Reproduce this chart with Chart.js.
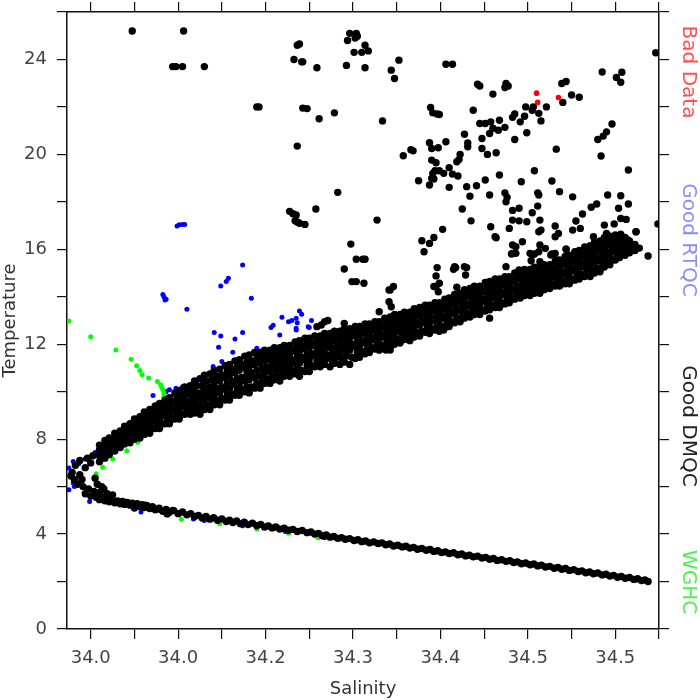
<!DOCTYPE html>
<html>
<head>
<meta charset="utf-8">
<script src="https://cdn.jsdelivr.net/npm/chart.js@4.4.1/dist/chart.umd.min.js"></script>
<style>
  html, body { margin: 0; padding: 0; background: #fff; }
  #wrap { width: 700px; height: 700px; position: relative; }
</style>
</head>
<body>
<div id="wrap"><canvas id="chart0"></canvas></div>
<script>
// axis ticks (labels as printed on the original plot)
const xTickValues = [34.00, 34.04, 34.08, 34.12, 34.16, 34.20, 34.24, 34.28, 34.32, 34.36, 34.40, 34.44, 34.48, 34.52];
const xTickLabels = ['34.0', '', '34.0', '', '34.2', '', '34.3', '', '34.4', '', '34.5', '', '34.5', ''];

const seriesNames = ['Bad Data', 'Good RTQC', 'Good DMQC', 'WGHC'];

// Bad Data (red)
const badData = [[34.408, 22.58], [34.409, 22.19], [34.428, 22.40]];

// Good DMQC - warm branch, temperatures seen at each salinity column
const bandSal = [34.008, 34.013, 34.017, 34.022, 34.027, 34.031, 34.036, 34.040, 34.045, 34.049,
  34.054, 34.059, 34.063, 34.068, 34.072, 34.077, 34.081, 34.086, 34.091, 34.095,
  34.100, 34.104, 34.109, 34.113, 34.118, 34.123, 34.127, 34.132, 34.136, 34.141,
  34.145, 34.150, 34.155, 34.159, 34.164, 34.168, 34.173, 34.177, 34.182, 34.187,
  34.191, 34.196, 34.200, 34.205, 34.210, 34.214, 34.219, 34.223, 34.228, 34.232,
  34.237, 34.242, 34.246, 34.251, 34.255, 34.260, 34.264, 34.269, 34.274, 34.278,
  34.283, 34.287, 34.292, 34.296, 34.301, 34.306, 34.310, 34.315, 34.319, 34.324,
  34.328, 34.333, 34.338, 34.342, 34.347, 34.351, 34.356, 34.361, 34.365, 34.370,
  34.374, 34.379, 34.383, 34.388, 34.393, 34.397, 34.402, 34.406, 34.411, 34.415,
  34.420, 34.425, 34.429, 34.434, 34.438, 34.443, 34.447, 34.452, 34.457, 34.461,
  34.466, 34.470, 34.475, 34.480, 34.484, 34.489, 34.493, 34.498, 34.502];
const bandTemp = [
  [7.05, 7.3, 7.55, 7.75], [7.2, 7.45, 7.7, 7.95], [7.35, 7.6, 7.85, 8.05], [7.5, 7.8, 8.05, 8.25], [7.65, 7.9, 8.15, 8.35],
  [7.8, 8.05, 8.3, 8.55], [7.85, 8.15, 8.45, 8.65], [8.0, 8.3, 8.6, 8.85], [8.05, 8.4, 8.65, 8.95], [8.2, 8.55, 8.85, 9.15],
  [8.25, 8.6, 8.95, 9.25], [8.45, 8.75, 9.1, 9.4], [8.45, 8.8, 9.15, 9.5], [8.65, 9.0, 9.3, 9.65], [8.65, 9.05, 9.4, 9.75],
  [8.85, 9.2, 9.55, 9.95], [8.85, 9.25, 9.7, 10.05], [9.05, 9.4, 9.8, 10.2], [9.05, 9.45, 9.9, 10.25], [9.1, 9.55, 10.0, 10.45],
  [9.05, 9.5, 9.95, 10.55], [9.25, 9.7, 10.15, 10.7], [9.25, 9.75, 10.2, 10.75], [9.45, 9.9, 10.4, 10.9], [9.45, 9.95, 10.45, 10.95],
  [9.65, 10.1, 10.6, 11.1], [9.65, 10.15, 10.7, 11.15], [9.85, 10.3, 10.8, 11.3], [9.85, 10.35, 10.9, 11.35], [10.0, 10.45, 11.0, 11.5],
  [9.95, 10.5, 11.05, 11.55], [10.15, 10.6, 11.15, 11.65], [10.15, 10.65, 11.2, 11.65], [10.35, 10.8, 11.3, 11.75], [10.35, 10.85, 11.35, 11.75],
  [10.5, 10.95, 11.45, 11.85], [10.45, 10.95, 11.45, 11.85], [10.65, 11.1, 11.55, 11.95], [10.65, 11.1, 11.6, 11.95], [10.75, 11.2, 11.7, 12.1],
  [10.65, 11.2, 11.7, 12.15], [10.85, 11.35, 11.8, 12.25], [10.85, 11.35, 11.85, 12.25], [11.05, 11.5, 11.95, 12.35], [11.05, 11.5, 11.95, 12.35],
  [11.15, 11.6, 12.05, 12.45], [11.05, 11.55, 12.05, 12.45], [11.2, 11.7, 12.15, 12.55], [11.15, 11.65, 12.15, 12.55], [11.25, 11.75, 12.25, 12.65],
  [11.15, 11.75, 12.25, 12.65], [11.4, 11.9, 12.35, 12.75], [11.45, 11.95, 12.4, 12.75], [11.6, 12.05, 12.45, 12.85], [11.65, 12.1, 12.5, 12.85],
  [11.8, 12.2, 12.6, 12.95], [11.75, 12.2, 12.6, 12.95], [11.9, 12.3, 12.7, 13.1], [11.85, 12.3, 12.75, 13.15], [12.0, 12.45, 12.85, 13.25],
  [12.05, 12.5, 12.9, 13.25], [12.2, 12.6, 13.0, 13.35], [12.15, 12.6, 13.0, 13.35], [12.3, 12.75, 13.1, 13.5], [12.35, 12.8, 13.2, 13.55],
  [12.5, 12.9, 13.3, 13.65], [12.45, 12.9, 13.3, 13.65], [12.6, 13.0, 13.4, 13.75], [12.55, 13.0, 13.4, 13.75], [12.7, 13.1, 13.5, 13.9],
  [12.75, 13.2, 13.6, 13.95], [12.9, 13.3, 13.7, 14.1], [12.95, 13.4, 13.8, 14.15], [13.1, 13.5, 13.9, 14.3], [13.15, 13.6, 14.0, 14.35],
  [13.25, 13.65, 14.05, 14.45], [13.25, 13.7, 14.1, 14.45], [13.4, 13.8, 14.2, 14.6], [13.45, 13.9, 14.3, 14.65], [13.55, 13.95, 14.35, 14.75],
  [13.55, 14.0, 14.4, 14.75], [13.7, 14.1, 14.5, 14.85], [13.75, 14.15, 14.55, 14.85], [13.9, 14.25, 14.65, 15.0], [13.95, 14.35, 14.75, 15.05],
  [14.05, 14.45, 14.8, 15.15], [14.05, 14.45, 14.85, 15.15], [14.15, 14.55, 14.9, 15.25], [14.15, 14.6, 14.95, 15.25], [14.3, 14.7, 15.0, 15.35],
  [14.35, 14.75, 15.05, 15.35], [14.45, 14.85, 15.15, 15.5], [14.45, 14.85, 15.25, 15.55], [14.55, 14.95, 15.35, 15.7], [14.55, 15.0, 15.4, 15.75],
  [14.7, 15.1, 15.5, 15.9], [14.75, 15.2, 15.6, 15.95], [14.85, 15.25, 15.7, 16.1], [14.85, 15.3, 15.75, 16.15], [15.0, 15.45, 15.85, 16.3],
  [15.05, 15.5, 15.95, 16.35], [15.25, 15.65, 16.1, 16.5], [15.35, 15.75, 16.2, 16.55], [15.55, 15.9, 16.25, 16.6], [15.65, 16.0, 16.3, 16.55],
  [15.75, 16.05, 16.3, 16.5], [15.85, 16.1, 16.35], [15.95, 16.2], [16.05]
];
// in-between columns of the same warm branch
const bandSal2 = [34.010, 34.015, 34.019, 34.024, 34.029, 34.033, 34.038, 34.042, 34.047, 34.051,
  34.056, 34.061, 34.065, 34.070, 34.074, 34.079, 34.083, 34.088, 34.093, 34.097,
  34.102, 34.106, 34.111, 34.115, 34.120, 34.125, 34.129, 34.134, 34.138, 34.143,
  34.147, 34.152, 34.157, 34.161, 34.166, 34.170, 34.175, 34.179, 34.184, 34.189,
  34.193, 34.198, 34.202, 34.207, 34.212, 34.216, 34.221, 34.225, 34.230, 34.234,
  34.239, 34.244, 34.248, 34.253, 34.257, 34.262, 34.266, 34.271, 34.276, 34.280,
  34.285, 34.289, 34.294, 34.298, 34.303, 34.308, 34.312, 34.317, 34.321, 34.326,
  34.330, 34.335, 34.340, 34.344, 34.349, 34.353, 34.358, 34.363, 34.367, 34.372,
  34.376, 34.381, 34.385, 34.390, 34.395, 34.399, 34.404, 34.408, 34.413, 34.417,
  34.422, 34.427, 34.431, 34.436, 34.440, 34.445, 34.449, 34.454, 34.459, 34.463,
  34.468, 34.472, 34.477, 34.482, 34.486, 34.491];
const bandTemp2 = [
  [7.25, 7.5, 7.7], [7.4, 7.65, 7.85], [7.55, 7.8, 8.0], [7.7, 7.95, 8.2], [7.8, 8.1, 8.3],
  [7.95, 8.25, 8.45], [8.05, 8.35, 8.6], [8.2, 8.5, 8.75], [8.25, 8.55, 8.85], [8.4, 8.75, 9.0],
  [8.45, 8.8, 9.15], [8.6, 8.95, 9.3], [8.65, 9.0, 9.35], [8.85, 9.15, 9.5], [8.85, 9.25, 9.6],
  [9.05, 9.4, 9.8], [9.05, 9.5, 9.9], [9.25, 9.6, 10.0], [9.25, 9.7, 10.1], [9.3, 9.8, 10.25],
  [9.3, 9.75, 10.25], [9.45, 9.95, 10.45], [9.5, 10.0, 10.5], [9.65, 10.15, 10.65], [9.7, 10.2, 10.7],
  [9.85, 10.35, 10.85], [9.9, 10.45, 10.95], [10.05, 10.55, 11.05], [10.1, 10.6, 11.15], [10.2, 10.75, 11.25],
  [10.2, 10.8, 11.3], [10.35, 10.9, 11.4], [10.4, 10.95, 11.45], [10.55, 11.05, 11.5], [10.6, 11.1, 11.55],
  [10.7, 11.2, 11.65], [10.7, 11.2, 11.65], [10.85, 11.35, 11.75], [10.9, 11.35, 11.8], [10.95, 11.45, 11.9],
  [10.9, 11.45, 11.95], [11.1, 11.55, 12.05], [11.1, 11.6, 12.05], [11.25, 11.7, 12.15], [11.3, 11.75, 12.15],
  [11.4, 11.85, 12.25], [11.3, 11.8, 12.25], [11.45, 11.9, 12.35], [11.4, 11.9, 12.35], [11.5, 12.0, 12.45],
  [11.45, 12.0, 12.45], [11.65, 12.1, 12.55], [11.7, 12.15, 12.6], [11.8, 12.25, 12.65], [11.85, 12.3, 12.7],
  [12.0, 12.4, 12.8], [11.95, 12.4, 12.8], [12.1, 12.5, 12.9], [12.05, 12.55, 12.95], [12.2, 12.65, 13.05],
  [12.25, 12.7, 13.1], [12.4, 12.8, 13.2], [12.35, 12.8, 13.2], [12.5, 12.9, 13.3], [12.55, 13.0, 13.4],
  [12.7, 13.1, 13.5], [12.65, 13.1, 13.5], [12.8, 13.2, 13.6], [12.75, 13.2, 13.6], [12.9, 13.3, 13.7],
  [12.95, 13.4, 13.8], [13.1, 13.5, 13.9], [13.15, 13.6, 14.0], [13.3, 13.7, 14.1], [13.35, 13.8, 14.2],
  [13.45, 13.85, 14.25], [13.45, 13.9, 14.3], [13.6, 14.0, 14.4], [13.65, 14.1, 14.5], [13.75, 14.15, 14.55],
  [13.75, 14.2, 14.6], [13.9, 14.3, 14.7], [13.95, 14.35, 14.7], [14.1, 14.45, 14.85], [14.15, 14.55, 14.9],
  [14.25, 14.65, 15.0], [14.25, 14.65, 15.0], [14.35, 14.75, 15.1], [14.35, 14.8, 15.1], [14.5, 14.85, 15.2],
  [14.55, 14.9, 15.2], [14.65, 15.0, 15.35], [14.65, 15.05, 15.4], [14.75, 15.15, 15.55], [14.75, 15.2, 15.6],
  [14.9, 15.3, 15.7], [14.95, 15.4, 15.8], [15.05, 15.5, 15.9], [15.05, 15.55, 15.95], [15.2, 15.65, 16.1],
  [15.25, 15.75, 16.15], [15.45, 15.9, 16.3], [15.55, 16.0, 16.4], [15.7, 16.1, 16.45], [15.8, 16.15, 16.45],
  [15.9, 16.2, 16.4]
];

// Good DMQC - cold branch
const coldSal = [34.008, 34.013, 34.017, 34.022, 34.027, 34.031, 34.036, 34.040, 34.045, 34.049,
  34.054, 34.059, 34.066, 34.072, 34.080, 34.088, 34.095, 34.102, 34.109, 34.116,
  34.124, 34.130, 34.137, 34.144, 34.152, 34.159, 34.166, 34.173, 34.181, 34.189,
  34.198, 34.205, 34.212, 34.219, 34.226, 34.233, 34.241, 34.248, 34.255, 34.263,
  34.270, 34.277, 34.285, 34.292, 34.299, 34.307, 34.314, 34.321, 34.328, 34.336,
  34.343, 34.350, 34.358, 34.365, 34.372, 34.380, 34.387, 34.394, 34.402, 34.409,
  34.416, 34.424, 34.431, 34.438, 34.446, 34.453, 34.460, 34.468, 34.475, 34.482,
  34.489, 34.497, 34.504, 34.510];
const coldTemp = [5.45, 5.40, 5.36, 5.32, 5.28, 5.25, 5.22, 5.19, 5.16, 5.12,
  5.08, 5.02, 4.96, 4.92, 4.86, 4.81, 4.74, 4.68, 4.63, 4.58,
  4.53, 4.49, 4.44, 4.40, 4.35, 4.30, 4.26, 4.21, 4.16, 4.11,
  4.06, 4.00, 3.93, 3.87, 3.82, 3.78, 3.73, 3.68, 3.63, 3.60,
  3.55, 3.50, 3.46, 3.41, 3.36, 3.32, 3.27, 3.22, 3.18, 3.13,
  3.08, 3.04, 2.99, 2.94, 2.89, 2.85, 2.80, 2.75, 2.71, 2.66,
  2.61, 2.56, 2.52, 2.47, 2.42, 2.37, 2.33, 2.28, 2.23, 2.18,
  2.14, 2.09, 2.04, 2.00];
const coldSal2 = [34.0105, 34.015, 34.0195, 34.0245, 34.029, 34.0335, 34.038, 34.0425, 34.047, 34.0515,
  34.0565, 34.0625, 34.069, 34.076, 34.084, 34.0915, 34.0985, 34.1055, 34.1125, 34.120,
  34.127, 34.1335, 34.1405, 34.148, 34.1555, 34.1625, 34.1695, 34.177, 34.185, 34.1935,
  34.2015, 34.2085, 34.2155, 34.2225, 34.2295, 34.237, 34.2445, 34.2515, 34.259, 34.2665,
  34.2735, 34.281, 34.2885, 34.2955, 34.303, 34.3105, 34.3175, 34.3245, 34.332, 34.3395,
  34.3465, 34.354, 34.3615, 34.3685, 34.376, 34.3835, 34.3905, 34.398, 34.4055, 34.4125,
  34.420, 34.4275, 34.4345, 34.442, 34.4495, 34.4565, 34.464, 34.4715, 34.4785, 34.4855,
  34.493, 34.5005, 34.507];
const coldTemp2 = [5.52, 5.48, 5.44, 5.40, 5.37, 5.33, 5.30, 5.28, 5.24, 5.20,
  5.15, 5.09, 5.04, 4.99, 4.93, 4.86, 4.79, 4.74, 4.69, 4.64,
  4.59, 4.55, 4.50, 4.46, 4.41, 4.34, 4.30, 4.25, 4.20, 4.15,
  4.09, 4.03, 3.96, 3.90, 3.85, 3.81, 3.76, 3.71, 3.67, 3.63,
  3.58, 3.53, 3.49, 3.44, 3.39, 3.35, 3.30, 3.25, 3.21, 3.16,
  3.11, 3.07, 3.02, 2.97, 2.92, 2.88, 2.83, 2.78, 2.74, 2.69,
  2.64, 2.59, 2.55, 2.50, 2.45, 2.40, 2.36, 2.31, 2.26, 2.21,
  2.17, 2.12, 2.07];

// Good DMQC - knot near 34.0 and scattered profiles
const dmqcScatter = [
  [33.983, 6.6], [33.986, 6.9], [33.990, 7.1], [33.985, 6.3], [33.990, 6.5], [33.995, 6.8], [34.000, 7.0],
  [33.988, 6.1], [33.993, 6.0], [33.998, 5.9], [34.003, 5.8], [34.008, 5.75], [34.012, 5.9], [33.995, 5.7],
  [34.000, 5.6], [34.006, 6.1], [34.010, 6.0], [34.015, 5.7], [34.018, 5.55], [33.982, 6.45], [34.002, 7.3],
  [33.992, 6.3], [34.004, 6.35], [33.997, 7.2], [34.005, 5.55], [34.020, 5.65],
  [34.030, 5.35], [34.050, 5.22], [34.062, 5.05], [34.070, 4.85], [34.040, 5.1], [34.075, 5.0],
  [34.038, 25.2], [34.085, 25.2], [34.075, 23.7], [34.078, 23.7], [34.084, 23.7], [34.104, 23.7],
  [34.189, 24.6], [34.191, 24.65], [34.186, 24.0], [34.193, 23.9], [34.194, 23.9], [34.207, 23.65],
  [34.152, 22.0], [34.154, 22.0], [34.194, 21.95], [34.198, 21.93], [34.209, 21.5], [34.223, 21.75],
  [34.189, 20.35], [34.226, 18.4], [34.182, 17.6], [34.185, 17.5], [34.188, 17.45],
  [34.187, 17.2], [34.189, 17.15], [34.191, 17.1], [34.196, 17.05], [34.206, 17.7],
  [34.237, 25.1], [34.243, 25.1], [34.244, 24.98], [34.242, 24.9], [34.235, 24.8],
  [34.251, 24.6], [34.254, 24.36], [34.248, 24.3], [34.241, 24.3], [34.234, 23.75], [34.251, 23.65],
  [34.282, 23.97], [34.275, 23.55], [34.278, 23.2], [34.325, 23.8], [34.331, 23.8], [34.517, 24.28],
  [34.354, 22.96], [34.356, 22.88], [34.380, 22.99], [34.382, 22.88], [34.379, 22.82], [34.368, 22.54],
  [34.431, 22.99], [34.435, 23.07], [34.440, 22.5], [34.447, 22.41], [34.432, 22.19],
  [34.468, 23.47], [34.481, 23.24], [34.486, 23.46], [34.485, 23.04],
  [34.405, 22.0], [34.398, 22.0], [34.417, 22.0], [34.410, 21.73], [34.412, 21.41], [34.404, 21.86],
  [34.388, 21.7], [34.386, 21.56], [34.393, 21.37], [34.397, 21.61], [34.399, 20.91],
  [34.374, 21.44], [34.379, 21.14], [34.366, 21.37], [34.361, 21.3], [34.356, 21.3],
  [34.368, 21.1], [34.373, 21.02], [34.365, 20.88], [34.350, 21.86],
  [34.311, 21.98], [34.313, 21.75], [34.317, 21.7], [34.319, 21.68], [34.267, 21.41], [34.342, 20.85],
  [34.358, 20.67], [34.358, 20.25], [34.363, 20.0], [34.371, 20.07], [34.345, 20.48], [34.345, 20.32],
  [34.338, 20.0], [34.337, 19.78], [34.335, 19.69],
  [34.325, 20.53], [34.318, 20.28], [34.312, 20.25], [34.310, 20.49], [34.293, 20.2], [34.295, 20.15], [34.286, 19.94],
  [34.388, 20.63], [34.426, 20.22], [34.464, 20.63], [34.469, 20.77], [34.472, 20.95], [34.477, 21.28], [34.467, 19.93],
  [34.312, 19.76], [34.316, 19.65], [34.313, 19.2], [34.315, 19.31], [34.319, 19.31], [34.323, 19.2],
  [34.328, 19.44], [34.331, 19.17], [34.336, 19.09], [34.312, 18.99], [34.310, 18.71], [34.314, 18.96],
  [34.300, 18.89], [34.328, 18.61], [34.344, 18.64], [34.353, 18.68], [34.361, 18.92], [34.347, 18.24],
  [34.374, 19.13], [34.365, 18.29], [34.379, 18.38], [34.381, 18.19], [34.380, 18.0],
  [34.394, 18.85], [34.406, 19.31], [34.409, 18.38], [34.410, 18.29],
  [34.422, 18.88], [34.429, 18.43], [34.441, 18.21], [34.492, 19.34], [34.473, 18.29], [34.485, 18.26],
  [34.340, 17.7], [34.348, 17.2],
  [34.386, 17.64], [34.392, 17.73], [34.386, 17.23], [34.392, 17.2], [34.399, 17.16], [34.404, 17.54], [34.409, 17.82],
  [34.411, 17.23], [34.412, 16.81], [34.410, 16.74], [34.366, 16.95], [34.371, 16.49], [34.383, 16.88],
  [34.322, 16.84], [34.314, 16.5], [34.310, 16.25], [34.303, 16.36], [34.305, 15.9],
  [34.262, 17.23], [34.238, 16.22],
  [34.243, 15.58], [34.249, 15.58], [34.251, 15.58], [34.232, 15.17],
  [34.239, 14.64], [34.243, 14.64], [34.250, 14.57], [34.273, 14.29], [34.277, 14.43],
  [34.425, 16.98], [34.428, 16.67], [34.435, 16.0], [34.441, 16.81],
  [34.444, 17.19], [34.450, 17.49], [34.458, 17.77], [34.463, 17.91], [34.448, 16.88],
  [34.483, 17.73], [34.485, 17.3], [34.490, 17.26], [34.484, 16.48], [34.492, 17.91], [34.499, 16.74],
  [34.519, 17.07], [34.510, 15.72], [34.470, 17.02], [34.479, 17.07],
  [34.421, 15.76], [34.425, 15.83], [34.416, 16.04], [34.410, 15.9], [34.404, 15.76], [34.402, 15.83],
  [34.389, 16.11], [34.386, 15.83], [34.380, 15.27], [34.392, 15.13], [34.403, 15.52],
  [34.342, 15.27], [34.333, 15.27], [34.332, 15.16],
  [34.316, 14.43], [34.319, 14.57], [34.316, 14.88], [34.314, 14.43], [34.317, 15.23], [34.318, 14.21],
  [34.334, 15.23], [34.344, 15.23], [34.343, 14.92], [34.335, 14.4],
  [34.274, 14.29], [34.273, 13.79], [34.275, 13.58], [34.264, 13.37], [34.370, 16.53],
  [34.386, 16.18], [34.395, 16.32], [34.389, 15.83], [34.385, 15.8],
  [34.406, 15.8], [34.411, 16.18], [34.411, 15.48], [34.417, 15.27], [34.422, 15.8], [34.425, 16.53], [34.426, 15.55], [34.435, 16.0],
  [34.460, 16.53], [34.472, 16.67], [34.485, 16.64], [34.499, 16.74],
  [34.365, 13.1], [34.323, 12.6], [34.264, 11.97], [34.274, 11.76], [34.270, 11.76],
  [34.207, 12.74], [34.211, 12.81], [34.214, 12.95], [34.217, 13.0], [34.232, 12.88]
];

// Good RTQC (blue)
const goodRTQC = [
  [34.079, 16.98], [34.081, 17.03], [34.084, 17.05], [34.086, 17.05], [34.139, 15.34],
  [34.124, 14.64], [34.126, 14.78], [34.119, 14.45],
  [34.066, 14.1], [34.067, 14.0], [34.069, 13.9], [34.068, 13.86], [34.147, 13.94], [34.088, 13.47],
  [34.191, 13.4], [34.193, 13.26], [34.175, 13.14],
  [34.181, 12.95], [34.184, 13.0], [34.188, 13.1], [34.189, 12.9],
  [34.167, 12.8], [34.165, 12.7], [34.202, 13.0], [34.200, 12.7], [34.188, 12.67],
  [34.113, 12.49], [34.119, 12.35], [34.132, 12.22], [34.139, 12.49],
  [34.117, 11.87], [34.130, 11.66], [34.152, 11.83], [34.170, 11.83],
  [34.112, 11.06], [34.120, 11.27],
  [34.103, 10.38], [34.107, 10.43], [34.112, 10.47], [34.106, 10.21], [34.110, 9.73], [34.113, 9.73],
  [34.188, 12.6], [34.199, 12.74], [34.173, 12.39],
  [34.145, 10.67], [34.158, 10.69], [34.152, 10.64], [34.179, 10.92], [34.170, 11.48],
  [34.211, 11.41], [34.216, 11.48], [34.258, 12.74], [34.243, 11.83],
  [34.057, 9.84], [34.069, 10.0], [34.072, 10.08],
  [34.078, 10.15], [34.084, 10.21], [34.078, 9.91], [34.091, 9.91],
  [34.094, 10.33], [34.097, 10.36], [34.102, 10.36], [34.096, 9.79], [34.099, 9.75],
  [34.074, 8.95], [34.042, 8.25],
  [33.984, 7.06], [33.989, 6.96], [33.995, 7.16], [34.004, 7.44],
  [33.980, 6.78], [33.980, 5.87], [33.984, 6.15], [33.985, 6.0],
  [33.999, 5.37], [34.010, 5.65], [34.011, 5.44], [34.046, 4.93], [34.054, 5.05],
  [34.094, 4.64], [34.104, 4.57], [34.139, 4.35], [34.178, 4.11], [34.214, 3.84],
  [34.300, 3.38], [34.400, 2.72]
];

// WGHC (green)
const wghc = [
  [33.980, 12.98], [34.000, 12.31], [34.023, 11.76], [34.037, 11.37],
  [34.042, 11.09], [34.045, 10.89], [34.047, 10.71], [34.053, 10.58], [34.061, 10.43],
  [34.064, 10.29], [34.065, 10.19], [34.066, 10.08], [34.067, 9.94], [34.067, 9.79],
  [34.066, 9.58], [34.065, 9.37], [34.062, 9.14], [34.059, 8.93],
  [34.043, 7.87], [34.033, 7.51], [34.020, 7.17], [34.011, 6.82], [34.005, 6.54],
  [34.017, 5.33], [34.083, 4.63], [34.118, 4.43], [34.152, 4.21], [34.181, 4.04], [34.208, 3.84],
  [34.262, 3.6], [34.330, 3.17]
];

// build the DMQC point list from the tables above
const goodDMQC = [];
bandSal.forEach((s, i) => (bandTemp[i] || []).forEach(t => goodDMQC.push({ x: s, y: t })));
bandSal2.forEach((s, i) => (bandTemp2[i] || []).forEach(t => goodDMQC.push({ x: s, y: t })));
coldSal.forEach((s, i) => goodDMQC.push({ x: s, y: coldTemp[i] }));
coldSal2.forEach((s, i) => goodDMQC.push({ x: s, y: coldTemp2[i] }));
dmqcScatter.forEach(p => goodDMQC.push({ x: p[0], y: p[1] }));

function toPoints(arr) {
    return arr.map(p => ({ x: p[0], y: p[1] }));
}

const FONT = '"DejaVu Sans", "Liberation Sans", sans-serif';
const sideColors = ['rgb(255,80,80)', 'rgb(140,140,255)', '#222222', 'rgb(80,240,80)'];
const sideY = [72, 240, 426, 582];

// rotated series names down the right side
const sideLabels = {
    id: 'sideLabels',
    afterDraw(chart) {
        const ctx = chart.ctx;
        ctx.save();
        ctx.font = '20px ' + FONT;
        ctx.textAlign = 'center';
        ctx.textBaseline = 'middle';
        seriesNames.forEach((name, i) => {
            ctx.save();
            ctx.translate(688, sideY[i]);
            ctx.rotate(Math.PI / 2);
            ctx.fillStyle = sideColors[i];
            ctx.fillText(name, 0, 0);
            ctx.restore();
        });
        ctx.restore();
    }
};

const tickGrid = { drawOnChartArea: false, drawTicks: true, tickLength: 10, color: '#111', lineWidth: 1.2 };
const frame = { display: true, color: '#111', width: 1.5 };
const setXTicks = (axis) => { axis.ticks = xTickValues.map(v => ({ value: v })); };
// fixed box sizes so the plot frame lands where the original has it
const fixBox = (w, h) => (axis) => {
    if (w !== null) axis.width = w;
    if (h !== null) axis.height = h;
    axis.paddingTop = 0; axis.paddingBottom = 0;
    axis.paddingLeft = 0; axis.paddingRight = 0;
};

const ctx = document.getElementById('chart0').getContext('2d');
const chart = new Chart(ctx, {
    type: 'scatter',
    data: {
        datasets: [
            { label: seriesNames[0], data: toPoints(badData), backgroundColor: '#ff0000', pointRadius: 2.8, pointBorderWidth: 0 },
            { label: seriesNames[2], data: goodDMQC, backgroundColor: '#000000', pointRadius: 3.7, pointBorderWidth: 0 },
            { label: seriesNames[3], data: toPoints(wghc), backgroundColor: '#00ff00', pointRadius: 2.5, pointBorderWidth: 0 },
            { label: seriesNames[1], data: toPoints(goodRTQC), backgroundColor: '#0000ff', pointRadius: 2.5, pointBorderWidth: 0 },
        ],
    },
    options: {
        responsive: true,
        maintainAspectRatio: false,
        animation: false,
        layout: { padding: 0 },
        scales: {
            x: {
                type: 'linear', position: 'bottom', min: 33.9783, max: 34.52,
                afterBuildTicks: setXTicks,
                afterFit: fixBox(null, 71),
                ticks: {
                    callback: (v, i) => xTickLabels[i],
                    autoSkip: false, maxRotation: 0, padding: 9,
                    color: '#444', font: { family: FONT, size: 18 },
                },
                grid: tickGrid, border: frame,
                title: { display: true, text: 'Salinity', color: '#333', font: { family: FONT, size: 18 }, padding: { top: 0, bottom: 0 } },
            },
            x2: {
                type: 'linear', position: 'top', min: 33.9783, max: 34.52,
                afterBuildTicks: setXTicks,
                afterFit: fixBox(null, 12),
                ticks: { display: false },
                grid: tickGrid, border: frame,
            },
            y: {
                type: 'linear', position: 'left', min: 0, max: 26,
                afterFit: fixBox(67, null),
                ticks: {
                    stepSize: 2, padding: 10,
                    callback: (v) => (v % 4 === 0 && v <= 24 ? String(v) : ''),
                    color: '#444', font: { family: FONT, size: 18 },
                },
                grid: tickGrid, border: frame,
                title: { display: true, text: 'Temperature', color: '#333', font: { family: FONT, size: 18 }, padding: { top: 0, bottom: 0 } },
            },
            y2: {
                type: 'linear', position: 'right', min: 0, max: 26,
                afterFit: fixBox(41, null),
                ticks: { stepSize: 2, display: false },
                grid: tickGrid, border: frame,
            },
        },
        plugins: {
            legend: { display: false },
            tooltip: { enabled: false },
        },
    },
    plugins: [sideLabels],
});
</script>
</body>
</html>
